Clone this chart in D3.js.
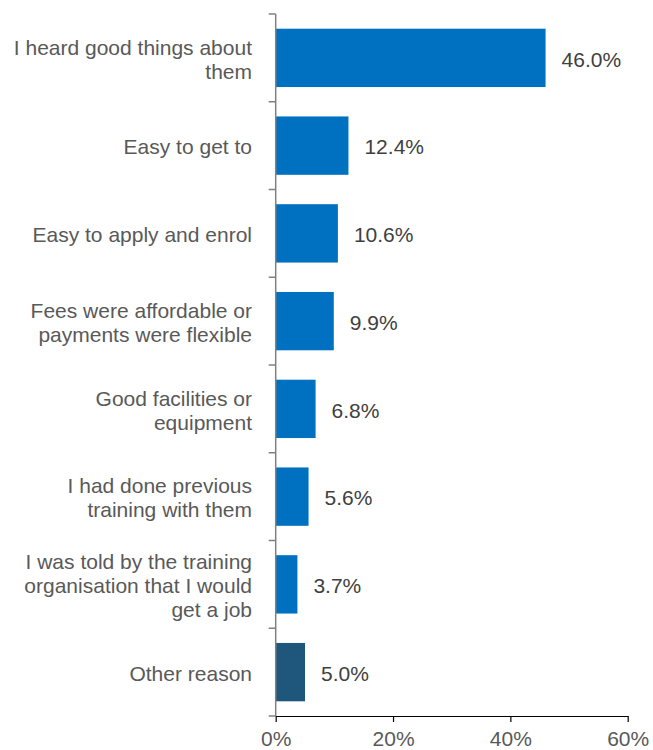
<!DOCTYPE html>
<html>
<head>
<meta charset="utf-8">
<script src="https://cdn.jsdelivr.net/npm/d3@7"></script>
<style>
  html, body { margin: 0; padding: 0; background: #fff; }
  svg { display: block; }
</style>
</head>
<body>
<script>
const categories = [
  ["I heard good things about", "them"],
  ["Easy to get to"],
  ["Easy to apply and enrol"],
  ["Fees were affordable or", "payments were flexible"],
  ["Good facilities or", "equipment"],
  ["I had done previous", "training with them"],
  ["I was told by the training", "organisation that I would", "get a job"],
  ["Other reason"]
];
const values = [46.0, 12.4, 10.6, 9.9, 6.8, 5.6, 3.7, 5.0];
const barColors = ["#0070C0", "#0070C0", "#0070C0", "#0070C0", "#0070C0", "#0070C0", "#0070C0", "#1F567C"];
const xTicks = [0, 20, 40, 60];

const W = 653, H = 750;
const mLeft = 275.7, mRight = 627.7, mTop = 14, mBottom = 716;
const font = "'Liberation Sans', Arial, sans-serif";
const fs = 21;

const svg = d3.select("body").append("svg").attr("width", W).attr("height", H);

const x = d3.scaleLinear().domain([0, 60]).range([mLeft, mRight]);
const y = d3.scaleBand().domain(d3.range(categories.length)).range([mTop, mBottom]).paddingInner(0.335).paddingOuter(0.1675);

// bars
svg.append("g").selectAll("rect").data(values).join("rect")
  .attr("x", x(0))
  .attr("y", (d, i) => y(i))
  .attr("width", d => x(d) - x(0))
  .attr("height", y.bandwidth())
  .attr("fill", (d, i) => barColors[i]);

// value labels
svg.append("g").selectAll("text").data(values).join("text")
  .attr("x", d => x(d) + 16)
  .attr("y", (d, i) => y(i) + y.bandwidth() / 2)
  .attr("dy", "0.42em")
  .attr("font-family", font)
  .attr("font-size", fs)
  .attr("fill", "#404040")
  .text(d => d.toFixed(1) + "%");

// y axis (grey) with ticks at band boundaries
const step = (mBottom - mTop) / categories.length;
const yg = svg.append("g");
yg.append("line").attr("x1", mLeft).attr("x2", mLeft).attr("y1", mTop).attr("y2", mBottom)
  .attr("stroke", "#808080").attr("stroke-width", 1.5);
yg.selectAll("line.tk").data(d3.range(categories.length + 1)).join("line").attr("class", "tk")
  .attr("x1", mLeft - 7).attr("x2", mLeft)
  .attr("y1", i => mTop + i * step).attr("y2", i => mTop + i * step)
  .attr("stroke", "#808080").attr("stroke-width", 1.5);

// category labels
const lineH = 24;
const cg = svg.append("g");
categories.forEach((lines, i) => {
  const cy = y(i) + y.bandwidth() / 2;
  const t = cg.append("text")
    .attr("x", 252)
    .attr("text-anchor", "end")
    .attr("font-family", font)
    .attr("font-size", fs)
    .attr("fill", "#595959");
  lines.forEach((ln, j) => {
    t.append("tspan")
      .attr("x", 252)
      .attr("y", cy + (j - (lines.length - 1) / 2) * lineH)
      .attr("dy", "0.42em")
      .text(ln);
  });
});

// x axis
const xAxis = d3.axisBottom(x).tickValues(xTicks).tickFormat(d => d + "%").tickSize(6).tickSizeOuter(0);
const xg = svg.append("g").attr("transform", `translate(0,${mBottom})`).call(xAxis);
xg.select(".domain").attr("stroke", "#000").attr("stroke-width", 1.2);
xg.selectAll(".tick line").attr("stroke", "#000").attr("stroke-width", 1.2);
xg.selectAll(".tick text")
  .attr("font-family", font)
  .attr("font-size", fs)
  .attr("fill", "#595959")
  .attr("y", 15)
  .attr("dy", "0.71em");
</script>
</body>
</html>
